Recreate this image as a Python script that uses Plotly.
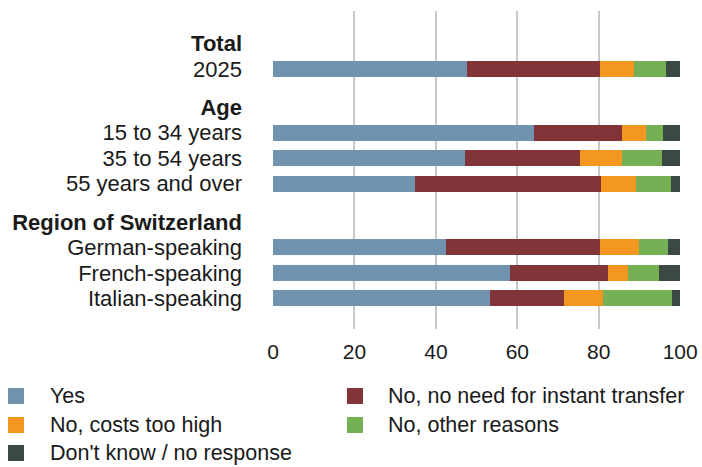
import plotly.graph_objects as go

# Row labels (group headers in bold) and their vertical positions
row_labels = ["<b>Total</b>", "2025",
              "<b>Age</b>", "15 to 34 years", "35 to 54 years", "55 years and over",
              "<b>Region of Switzerland</b>", "German-speaking", "French-speaking", "Italian-speaking"]
row_pos = [0, 1, 2.5, 3.5, 4.5, 5.5, 7, 8, 9, 10]

# Rows that carry bars
bar_rows = ["2025", "15 to 34 years", "35 to 54 years", "55 years and over",
            "German-speaking", "French-speaking", "Italian-speaking"]
bar_pos = [1, 3.5, 4.5, 5.5, 8, 9, 10]

# Shares in percent
yes = [47.7, 64.1, 47.2, 34.9, 42.5, 58.2, 53.3]
no_need = [32.6, 21.6, 28.2, 45.7, 37.8, 24.1, 18.2]
costs_high = [8.4, 5.9, 10.3, 8.6, 9.6, 4.9, 9.6]
other_reasons = [7.9, 4.2, 9.9, 8.6, 7.2, 7.6, 16.9]
dont_know = [3.4, 4.2, 4.4, 2.2, 2.9, 5.2, 2.0]

series = [
    ("Yes", yes, "#7293B0"),
    ("No, no need for instant transfer", no_need, "#823538"),
    ("No, costs too high", costs_high, "#F39720"),
    ("No, other reasons", other_reasons, "#76B054"),
    ("Don't know / no response", dont_know, "#3A4A42"),
]

x_ticks = [0, 20, 40, 60, 80, 100]

font_family = "Liberation Sans, Arial, sans-serif"
text_color = "#1a1a1a"

W, H = 702, 467
M_L, M_R, M_T, M_B = 273, 21, 11, 138
plot_w = W - M_L - M_R
plot_h = H - M_T - M_B


def px_to_paper_x(px):
    return (px - M_L) / plot_w


def px_to_paper_y(py):
    return (H - M_B - py) / plot_h


fig = go.Figure()
for name, vals, color in series:
    fig.add_trace(go.Bar(
        y=bar_pos, x=vals, name=name, orientation="h",
        marker=dict(color=color, line=dict(width=0)),
        width=0.63,
        hovertext=bar_rows,
        showlegend=False,
    ))

# Two-column legend below the chart: filled squares with labels
legend_cols = [(8, 48), (347, 386)]   # square left edge, text left edge (px)
legend_rows = [396, 425, 453]          # row centres (px)
sq = 16
for i, (name, _, color) in enumerate(series):
    col = legend_cols[i % 2]
    row_y = legend_rows[i // 2]
    fig.add_shape(
        type="rect", xref="paper", yref="paper",
        x0=px_to_paper_x(col[0]), x1=px_to_paper_x(col[0] + sq),
        y0=px_to_paper_y(row_y + sq / 2), y1=px_to_paper_y(row_y - sq / 2),
        fillcolor=color, line=dict(width=0),
    )
    fig.add_annotation(
        xref="paper", yref="paper",
        x=px_to_paper_x(col[1]), y=px_to_paper_y(row_y),
        xanchor="left", yanchor="middle", showarrow=False,
        text=name, font=dict(size=21.5, color=text_color),
    )

fig.update_layout(
    barmode="stack",
    width=W, height=H,
    margin=dict(l=M_L, r=M_R, t=M_T, b=M_B, autoexpand=False),
    paper_bgcolor="white", plot_bgcolor="white",
    font=dict(family=font_family, size=22, color=text_color),
    showlegend=False,
    xaxis=dict(
        range=[0, 100.2], tickvals=x_ticks, ticktext=[str(v) for v in x_ticks],
        showgrid=True, gridcolor="#c8c8c8", gridwidth=1.5,
        zeroline=False, showline=False,
        ticks="", tickfont=dict(size=21),
        ticklabelstandoff=8,
    ),
    yaxis=dict(
        range=[11.2, -1.27], tickvals=row_pos, ticktext=row_labels,
        showgrid=False, zeroline=False, showline=False, ticks="",
        tickfont=dict(size=22), ticklabelstandoff=30,
    ),
)

fig.write_html("out.html")
